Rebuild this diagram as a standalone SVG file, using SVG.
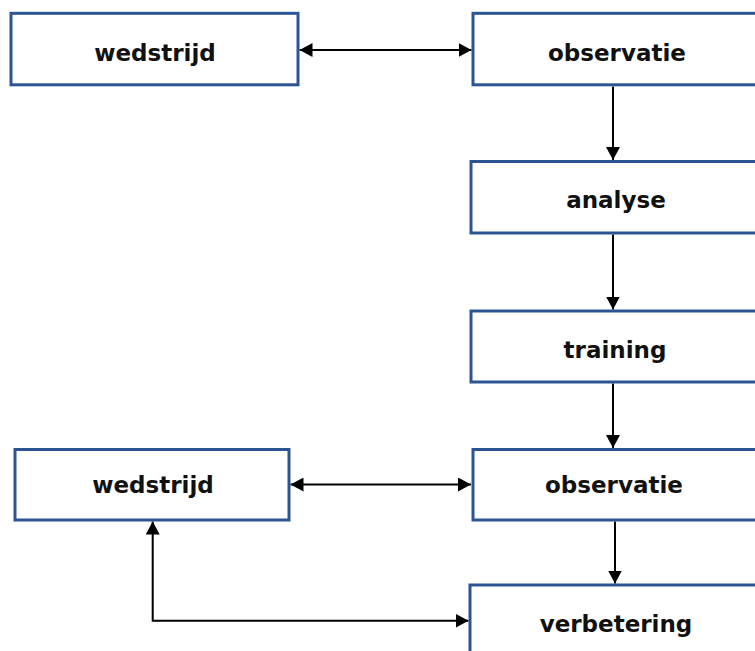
<svg xmlns="http://www.w3.org/2000/svg" width="755" height="651" viewBox="0 0 755 651">
<style>
.box{fill:#ffffff;stroke:#2D5492;stroke-width:3}
.lbl{font-family:"DejaVu Sans",Verdana,sans-serif;font-weight:bold;font-size:23px;fill:#111111;text-anchor:middle}
.con{fill:none;stroke:#000000;stroke-width:2}
</style>
<defs>
<marker id="ah" viewBox="0 0 13 14" refX="13" refY="7" markerWidth="13" markerHeight="14" markerUnits="userSpaceOnUse" orient="auto-start-reverse">
<path d="M0,0 L13,7 L0,14 Z" fill="#000000"/>
</marker>
</defs>
<rect width="755" height="651" fill="#ffffff"/>
<g id="connectors">
<line class="con" x1="299.5" y1="50" x2="471.5" y2="50" marker-start="url(#ah)" marker-end="url(#ah)"/>
<line class="con" x1="613" y1="86.5" x2="613" y2="160" marker-end="url(#ah)"/>
<line class="con" x1="613" y1="234.5" x2="613" y2="309.5" marker-end="url(#ah)"/>
<line class="con" x1="613" y1="383.5" x2="613" y2="448" marker-end="url(#ah)"/>
<line class="con" x1="290.5" y1="484.5" x2="471" y2="484.5" marker-start="url(#ah)" marker-end="url(#ah)"/>
<line class="con" x1="615" y1="521.5" x2="615" y2="583.5" marker-end="url(#ah)"/>
<polyline class="con" points="468.5,620.7 152.7,620.7 152.7,521.5" marker-start="url(#ah)" marker-end="url(#ah)"/>
</g>
<g id="wedstrijd1">
<rect class="box" x="11" y="13.3" width="287" height="71.5"/>
<text class="lbl" x="155" y="61">wedstrijd</text>
</g>
<g id="observatie1">
<rect class="box" x="473" y="13.3" width="320" height="71.5"/>
<text class="lbl" x="617" y="61">observatie</text>
</g>
<g id="analyse">
<rect class="box" x="471" y="161.5" width="320" height="71.5"/>
<text class="lbl" x="616" y="208">analyse</text>
</g>
<g id="training">
<rect class="box" x="471" y="311" width="320" height="71"/>
<text class="lbl" x="615" y="358">training</text>
</g>
<g id="observatie2">
<rect class="box" x="473" y="449.5" width="320" height="70.5"/>
<text class="lbl" x="614" y="493">observatie</text>
</g>
<g id="wedstrijd2">
<rect class="box" x="15" y="449.5" width="274" height="70.5"/>
<text class="lbl" x="153" y="493">wedstrijd</text>
</g>
<g id="verbetering">
<rect class="box" x="470" y="585" width="320" height="90"/>
<text class="lbl" x="616" y="632">verbetering</text>
</g>
</svg>
